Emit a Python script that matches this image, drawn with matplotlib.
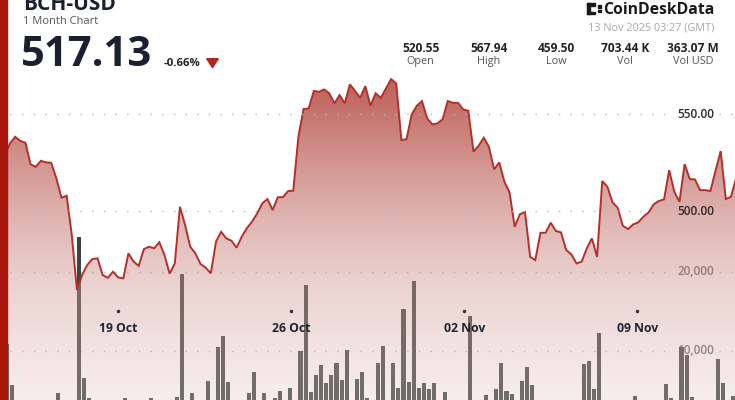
import numpy as np
import pandas as pd
import matplotlib
matplotlib.use('Agg')
import matplotlib.pyplot as plt
import matplotlib.dates as mdates
from matplotlib.patches import Rectangle, Polygon

plt.rcParams['font.family'] = ['Open Sans', 'DejaVu Sans']

# ---- data (5 hour candles) ----
start = '2025-10-14 10:00'
price = [528.9, 534.9, 538.3, 536.2, 535.2, 524.1, 522.8, 525.9, 525.1, 524.9,
         516.9, 506.9, 507.9, 487.6, 459.3, 467.0, 472.2, 475.3, 475.6, 467.0,
         465.6, 468.7, 465.8, 465.3, 478.2, 473.9, 471.8, 480.4, 481.6, 480.8,
         483.9, 477.3, 467.7, 473.0, 502.2, 492.8, 481.6, 478.2, 472.7, 470.8,
         467.9, 484.2, 489.3, 485.9, 484.7, 481.1, 486.8, 491.2,
         494.5, 498.8, 504.0, 506.2, 500.5, 507.1, 507.2, 510.3, 510.5, 538.3,
         552.6, 552.9, 561.9, 561.5, 562.7, 560.7, 555.5, 559.8, 555.5, 565.3,
         561.9, 558.4, 564.4, 554.3, 560.7, 558.4, 563.2, 568.0, 565.8, 536.6,
         537.1, 549.8, 554.3, 556.7, 547.8, 544.7, 545.2, 547.3, 556.7, 555.8,
         555.8, 552.4, 551.7, 530.6, 533.7, 537.8,
         533.1, 521.5, 525.1, 515.1, 509.6, 491.9, 498.3, 499.6, 476.4, 474.7,
         488.8, 488.8, 494.0, 489.7, 489.0, 479.9, 477.7, 473.0, 473.9, 480.8,
         485.9, 476.4, 515.5, 512.5, 504.5, 501.7, 492.4, 490.7, 493.1, 494.2,
         497.1, 499.3, 503.5, 505.2, 506.0, 521.1, 509.9, 504.8, 524.2, 516.5,
         516.3, 510.8, 510.8, 510.3, 520.8, 530.9, 506.2, 507.4, 517.13]
volume = [10800, 5640, 2900, 2400, 2100, 2600, 1900, 2300, 2800, 3100,
          4660, 3300, 2700, 3400, 24400, 6490, 3990, 3200, 2500, 2800,
          2200, 2600, 3000, 3990, 3300, 2400, 2900, 3100, 4030, 2700,
          3200, 2600, 3500, 4150, 19750, 3300, 4590, 2900, 3400, 6190,
          3100, 10430, 11870, 6060, 3200, 2800, 3400, 4660, 7260, 3300,
          4590, 3100, 4030, 4920, 3500, 5300, 3300, 9960, 18350, 4790,
          6910, 8180, 5860, 6910, 8480, 6280, 10090, 3400, 6400, 7330,
          3990, 3300, 8480, 10640, 3500, 8400, 5220, 15260, 6060, 18860,
          5220, 5860, 5100, 5930, 3400, 4790, 3100, 2800, 3300, 3000,
          14410, 3400, 2900, 4370, 3200, 5100, 8480, 4920, 4460, 3300,
          6150, 7970, 5640, 3100, 2600, 2900, 3300, 2500, 2800, 2400,
          3000, 3200, 8270, 8690, 5130, 12290, 3400, 3000, 2700, 2500,
          2900, 3100, 4280, 2600, 2800, 3000, 3300, 3400, 5770, 3990,
          3300, 10430, 9450, 4150, 3100, 2700, 3000, 3400, 8950, 5860,
          3200, 4280, 3000]
date_ticks = ['2025-10-19', '2025-10-26', '2025-11-02', '2025-11-09']
price_grid = [550, 500]
vol_grid = [20000, 10000]
stats = ['520.55', '567.94', '459.50', '703.44 K', '363.07 M']
stat_names = ['Open', 'High', 'Low', 'Vol', 'Vol USD']

times = pd.date_range(start, periods=len(price), freq='5h')
t = mdates.date2num(times.to_pydatetime())
step = 5 / 24

W, H = 735, 400
def fx(x):
    return x / W
def fy(y):
    return 1 - y / H

fig = plt.figure(figsize=(7.35, 4.0), dpi=100)
ax = fig.add_axes([0, 0, 1, 1])
ax2 = ax.twinx()

xmin = t[0] - 0.94 * step
xmax = t[0] + 141.78 * step
ax.set_xlim(xmin, xmax)
ax.set_ylim(3736, 54560)
ax2.set_ylim(402.6, 608.8)
for a in (ax, ax2):
    a.axis('off')

# volume bars (behind the price fill)
ax.bar(t, volume, width=0.8 * step, align='edge', color='#3c4641', zorder=2)
for v in vol_grid:
    ax.hlines(v, xmin + (xmax - xmin) * 0.013, xmin + (xmax - xmin) * 0.918,
              colors='#b5b5b5', linestyles=(0, (1, 7.4)), lw=1.0, zorder=1)
    ax.hlines(v, xmin + (xmax - xmin) * 0.978, xmax,
              colors='#b5b5b5', linestyles=(0, (1, 7.4)), lw=1.0, zorder=1)
    ax.text(fx(714), v, f'{v:,}', transform=ax.get_yaxis_transform(),
            ha='right', va='center', fontsize=8.5, color='#6a6a6a',
            fontweight='semibold', zorder=1)

# gradient area under the price line
ybot, ytop = ax2.get_ylim()
verts = [(t[0], ybot)] + list(zip(t, price)) + [(t[-1], ybot)]
area = Polygon(verts, closed=True, facecolor='none', edgecolor='none',
               transform=ax2.transData)
ax2.add_patch(area)
ypx = np.arange(H)
anc = [0, 90, 285, 400]
grad = np.zeros((H, 2, 4))
grad[:, :, 0] = np.interp(ypx, anc, [186, 186, 208, 229])[:, None] / 255
grad[:, :, 1] = np.interp(ypx, anc, [83, 83, 150, 200])[:, None] / 255
grad[:, :, 2] = np.interp(ypx, anc, [76, 76, 145, 195])[:, None] / 255
grad[:, :, 3] = np.interp(ypx, anc, [0.9, 0.9, 0.42, 0.31])[:, None]
im = ax2.imshow(grad, extent=[xmin, xmax, ybot, ytop], aspect='auto',
                origin='upper', zorder=2, interpolation='bilinear')
im.set_clip_path(area)
ax2.set_xlim(xmin, xmax)
ax2.set_ylim(ybot, ytop)

ax2.plot(t, price, color='#b5302a', lw=1.4, zorder=3, solid_joinstyle='miter')

for p in price_grid:
    ax2.hlines(p, xmin + (xmax - xmin) * 0.013, xmin + (xmax - xmin) * 0.918,
               colors='#b5b5b5', linestyles=(0, (1, 7.4)), lw=1.0, zorder=4)
    ax2.hlines(p, xmin + (xmax - xmin) * 0.978, xmax,
               colors='#b5b5b5', linestyles=(0, (1, 7.4)), lw=1.0, zorder=4)
    ax2.text(fx(714), p, f'{p:.2f}', transform=ax2.get_yaxis_transform(),
             ha='right', va='center', fontsize=8.5, color='#2b2b2b',
             fontweight='semibold', zorder=5)

# date labels
for d in date_ticks:
    dn = mdates.date2num(pd.Timestamp(d).to_pydatetime())
    ax2.plot([dn], [fy(311)], 'o', ms=1.5, color='#333333',
             transform=ax2.get_xaxis_transform(), zorder=5)
    ax2.text(dn, fy(328), pd.Timestamp(d).strftime('%d %b'),
             transform=ax2.get_xaxis_transform(), ha='center', va='center',
             fontsize=8.8, fontweight='bold', color='#1e2433', zorder=5)

# left red strip
fig.add_artist(Rectangle((0, 0), fx(7.3), 1, transform=fig.transFigure,
                         color='#a9160c', zorder=10))

# header, left (title is cut by the top edge, as in the source screenshot)
fig.text(fx(22.7), fy(9.5), 'BCH-USD', fontsize=15, fontweight='bold',
         color='#1a2030', va='baseline')
fig.text(fx(22.7), fy(24.5), '1 Month Chart', fontsize=8, color='#555555',
         va='baseline')
fig.text(fx(21), fy(66), '517.13', fontsize=30, fontweight='bold',
         color='#1a2030', va='baseline')
fig.text(fx(164), fy(66.5), '-0.66%', fontsize=8.2, fontweight='bold',
         color='#222222', va='baseline')
fig.add_artist(Polygon([(fx(206.7), fy(58.7)), (fx(218.3), fy(58.7)),
                        (fx(212.5), fy(67.7))], closed=True,
                       transform=fig.transFigure, color='#b3261e'))

# header, right
fig.text(fx(714.3), fy(14), 'CoinDeskData', fontsize=11.3, fontweight='bold',
         color='#1a1a1a', ha='right', va='baseline')
for (x0, y0, w, h) in [(587, 3, 3, 11), (587, 3, 8, 2.5), (587, 11.5, 8, 2.5),
                       (598, 5, 3, 2.5), (598, 9.5, 3, 2.5)]:
    fig.add_artist(Rectangle((fx(x0), fy(y0 + h)), w / W, h / H,
                             transform=fig.transFigure, color='#1a1a1a'))
fig.text(fx(714.3), fy(30), '13 Nov 2025 03:27 (GMT)', fontsize=7.8,
         color='#a8a8a8', ha='right', va='baseline')
centers = [420.7, 488.5, 556.7, 625.3, 693]
for cx, s, n in zip(centers, stats, stat_names):
    fig.text(fx(cx), fy(51.7), s, fontsize=8.6, fontweight='bold',
             color='#222222', ha='center', va='baseline')
    fig.text(fx(cx), fy(64.3), n, fontsize=7.8, color='#555555',
             ha='center', va='baseline')

fig.savefig('out.png', dpi=100)
